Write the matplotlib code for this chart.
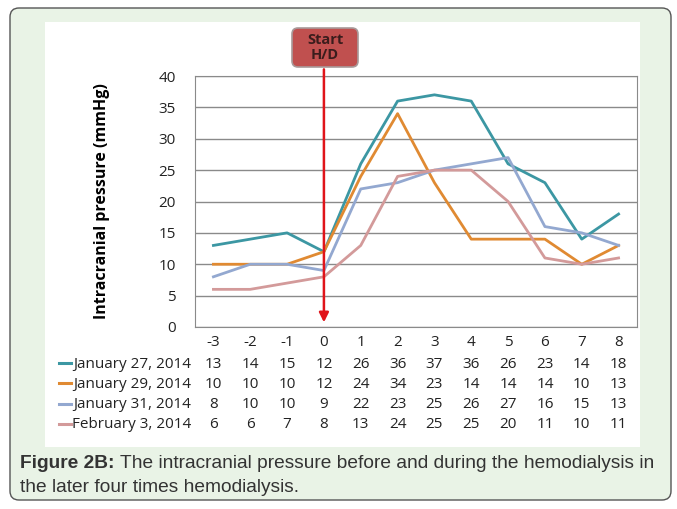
import numpy as np
import matplotlib.pyplot as plt
from matplotlib.patches import FancyBboxPatch, Rectangle
from matplotlib.lines import Line2D
import matplotlib.transforms as mtransforms

#--Données---------------------------
jours = [-3, -2, -1, 0, 1, 2, 3, 4, 5, 6, 7, 8]
series = ["January 27, 2014", "January 29, 2014", "January 31, 2014", "February 3, 2014"]
jan27 = [13, 14, 15, 12, 26, 36, 37, 36, 26, 23, 14, 18]
jan29 = [10, 10, 10, 12, 24, 34, 23, 14, 14, 14, 10, 13]
jan31 = [8, 10, 10, 9, 22, 23, 25, 26, 27, 16, 15, 13]
feb03 = [6, 6, 7, 8, 13, 24, 25, 25, 20, 11, 10, 11]
couleurs = ["#3c97a3", "#e08a32", "#93a8d0", "#d39a9a"]

W, H = 677, 509
fig = plt.figure(figsize=(W / 100, H / 100), dpi=100)


def px(x, y):
    """pixels (origine en haut à gauche) -> coordonnées figure"""
    return x / W, 1 - y / H


def boite_arrondie(x1, y1, x2, y2, rayon, **kw):
    """rectangle arrondi donné en pixels (coins ronds réguliers)"""
    p = FancyBboxPatch(px(x1, y2), (x2 - x1) / W, (y2 - y1) / H,
                       boxstyle="round,pad=0,rounding_size=%f" % (rayon / W),
                       mutation_aspect=W / H, transform=fig.transFigure, **kw)
    fig.patches.append(p)
    return p


# fond vert arrondi + zone blanche (derrière les axes)
boite_arrondie(10, 8, 671, 500, 9, facecolor="#e9f3e6", edgecolor="#555555", lw=1.0, zorder=-3)
blanc = Rectangle(px(45, 447), 595 / W, 425 / H, transform=fig.transFigure,
                  facecolor="white", edgecolor="none", zorder=-2)
fig.patches.append(blanc)

# axes
g, d, h, b = 195, 637, 76, 327
ax = fig.add_axes([g / W, 1 - b / H, (d - g) / W, (b - h) / H])
ax.set_facecolor("white")
x = np.arange(len(jours))
for vals, c in zip([jan27, jan29, jan31, feb03], couleurs):
    ax.plot(x, vals, color=c, lw=2.0, solid_joinstyle="round")
ax.set_xlim(-0.5, len(jours) - 0.5)
ax.set_ylim(0, 40)
ax.set_yticks(range(0, 41, 5))
ax.set_xticks([])
ax.yaxis.grid(True, color="#8a8a8a", lw=1.0)
ax.set_axisbelow(True)
ax.tick_params(axis="y", length=0, pad=14, labelsize=11, labelcolor="#222222")
for lab in ax.get_yticklabels():
    lab.set_family("Open Sans")
for s in ax.spines.values():
    s.set_color("#8a8a8a")
ax.set_ylabel("Intracranial pressure (mmHg)", fontsize=11.5, fontweight="bold",
              family="Open Sans", labelpad=35)

# tableau de données sous le graphique
trans = mtransforms.blended_transform_factory(ax.transData, fig.transFigure)
lignes_y = [343, 364, 384, 405, 425]
for i, j in enumerate(jours):
    ax.text(x[i], 1 - lignes_y[0] / H, str(j), transform=trans, ha="center", va="center",
            fontsize=11, family="Open Sans", color="#222222", clip_on=False)
for k, (nom, vals, c) in enumerate(zip(series, [jan27, jan29, jan31, feb03], couleurs)):
    yy = 1 - lignes_y[k + 1] / H
    for i, v in enumerate(vals):
        ax.text(x[i], yy, str(v), transform=trans, ha="center", va="center",
                fontsize=11, family="Open Sans", color="#222222", clip_on=False)
    fig.text(191 / W, yy, nom, ha="right", va="center", fontsize=11, family="Open Sans",
             color="#222222")
    fig.lines.append(Line2D([59 / W, 71 / W], [yy + 1 / H, yy + 1 / H],
                            transform=fig.transFigure, color=c, lw=2.2))

# flèche début H/D
x0 = 3
ax.annotate("", xy=(x0, 0.3), xycoords="data", xytext=(x0, 41.5),
            textcoords="data", annotation_clip=False,
            arrowprops=dict(arrowstyle="-|>", color="#e0141a", lw=1.8, mutation_scale=14))
boite_arrondie(292, 28, 358, 67, 6, facecolor="#c0504f", edgecolor="#a89a9a", lw=1.2, zorder=5)
fig.text(325 / W, 1 - 47.5 / H, "Start\nH/D", ha="center", va="center", fontsize=10.5,
         fontweight="bold", family="Open Sans", color="#3a1c1c", linespacing=1.05, zorder=6)

# légende de la figure
taille = 13.8
gras = fig.text(20 / W, 1 - 463 / H, "Figure 2B:", fontsize=taille, fontweight="bold",
                family="Liberation Sans", color="#333333", va="center")
r = fig.canvas.get_renderer()
fin = gras.get_window_extent(r).x1
fig.text((fin + 5) / W, 1 - 463 / H, "The intracranial pressure before and during the hemodialysis in",
         fontsize=taille, family="Liberation Sans", color="#333333", va="center")
fig.text(20 / W, 1 - 487 / H, "the later four times hemodialysis.",
         fontsize=taille, family="Liberation Sans", color="#333333", va="center")

fig.savefig("out.png", dpi=100)
